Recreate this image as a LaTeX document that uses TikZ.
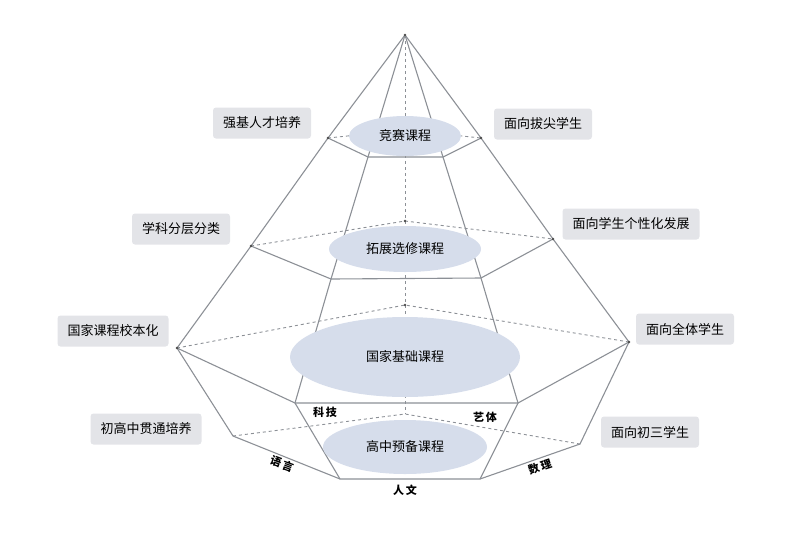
\documentclass[tikz,border=0pt]{standalone}
\usepackage{fontspec}
\usetikzlibrary{shapes.geometric}
\setmainfont{Noto Sans CJK SC}
\definecolor{ovalfill}{HTML}{D6DDEB}
\definecolor{tagfill}{HTML}{E3E4E8}
\definecolor{linec}{HTML}{8C9096}
\begin{document}
\begin{tikzpicture}[x=1pt,y=-1pt,
  edge/.style={draw=linec,line width=1.1pt},
  hid/.style={draw=linec,line width=0.9pt,dashed},
  oval/.style={ellipse,fill=ovalfill,inner sep=0pt},
  tag/.style={fill=tagfill,rounded corners=3pt,font=\fontsize{13}{15}\selectfont,minimum height=31pt,inner xsep=10pt},
  small/.style={font=\bfseries\fontsize{11}{13}\selectfont}]
\useasboundingbox (0,0) rectangle (800,542);
\coordinate (A) at (405,35);
\coordinate (L1) at (328,138); \coordinate (R1) at (481,138); \coordinate (B1) at (405,130);
\coordinate (FL1) at (368,157); \coordinate (FR1) at (443,157);
\coordinate (L2) at (251,246); \coordinate (R2) at (553,239); \coordinate (B2) at (405,221);
\coordinate (FL2) at (331,279); \coordinate (FR2) at (481,278);
\coordinate (L3) at (177,348); \coordinate (R3) at (629,342); \coordinate (B3) at (405,305);
\coordinate (FL3) at (295,403); \coordinate (FR3) at (518,403);
\coordinate (L4) at (233,436); \coordinate (R4) at (580,444); \coordinate (B4) at (405,414);
\coordinate (FL4) at (340,479); \coordinate (FR4) at (480,479);
% hidden
\draw[hid] (A) -- (B4);
\draw[hid] (L1) -- (B1) -- (R1);
\draw[hid] (L2) -- (B2) -- (R2);
\draw[hid] (L3) -- (B3) -- (R3);
\draw[hid] (L4) -- (B4) -- (R4);
% visible
\draw[edge] (A) -- (L1) -- (L2) -- (L3) -- (L4) -- (FL4) -- (FR4) -- (R4) -- (R3) -- (R2) -- (R1) -- (A);
\draw[edge] (A) -- (FL1) -- (FL2) -- (FL3) -- (FL4);
\draw[edge] (A) -- (FR1) -- (FR2) -- (FR3) -- (FR4);
\draw[edge] (L1) -- (FL1) -- (FR1) -- (R1);
\draw[edge] (L2) -- (FL2) -- (FR2) -- (R2);
\draw[edge] (L3) -- (FL3) -- (FR3) -- (R3);
\foreach \p in {A,L1,R1,L2,R2,L3,R3,B2,B3} \fill[gray!60!black] (\p) circle (1.3pt);
% ovals
\node[oval,minimum width=112pt,minimum height=40pt] (o1) at (405,136) {\fontsize{13}{15}\selectfont 竞赛课程};
\node[oval,minimum width=152pt,minimum height=46pt] (o2) at (405,249) {\fontsize{13}{15}\selectfont 拓展选修课程};
\node[oval,minimum width=230pt,minimum height=80pt] (o3) at (405,357) {\fontsize{13}{15}\selectfont 国家基础课程};
\node[oval,minimum width=164pt,minimum height=54pt] (o4) at (405,447) {\fontsize{13}{15}\selectfont 高中预备课程};
% tags
\node[tag] (t1) at (262,123) {强基人才培养};
\node[tag] (t2) at (543,124) {面向拔尖学生};
\node[tag] (t3) at (181,229) {学科分层分类};
\node[tag] (t4) at (631,224) {面向学生个性化发展};
\node[tag] (t5) at (113,331) {国家课程校本化};
\node[tag] (t6) at (685,329) {面向全体学生};
\node[tag] (t7) at (146,429) {初高中贯通培养};
\node[tag] (t8) at (650,432) {面向初三学生};
% small labels
\node[small] (s1) at (325,412) {科\,技};
\node[small] (s2) at (485,417) {艺\,体};
\node[small,rotate=-20] (s3) at (282,464) {语\,言};
\node[small] (s4) at (405,490) {人\,文};
\node[small,rotate=18] (s5) at (540,467) {数\,理};
\end{tikzpicture}
\end{document}
